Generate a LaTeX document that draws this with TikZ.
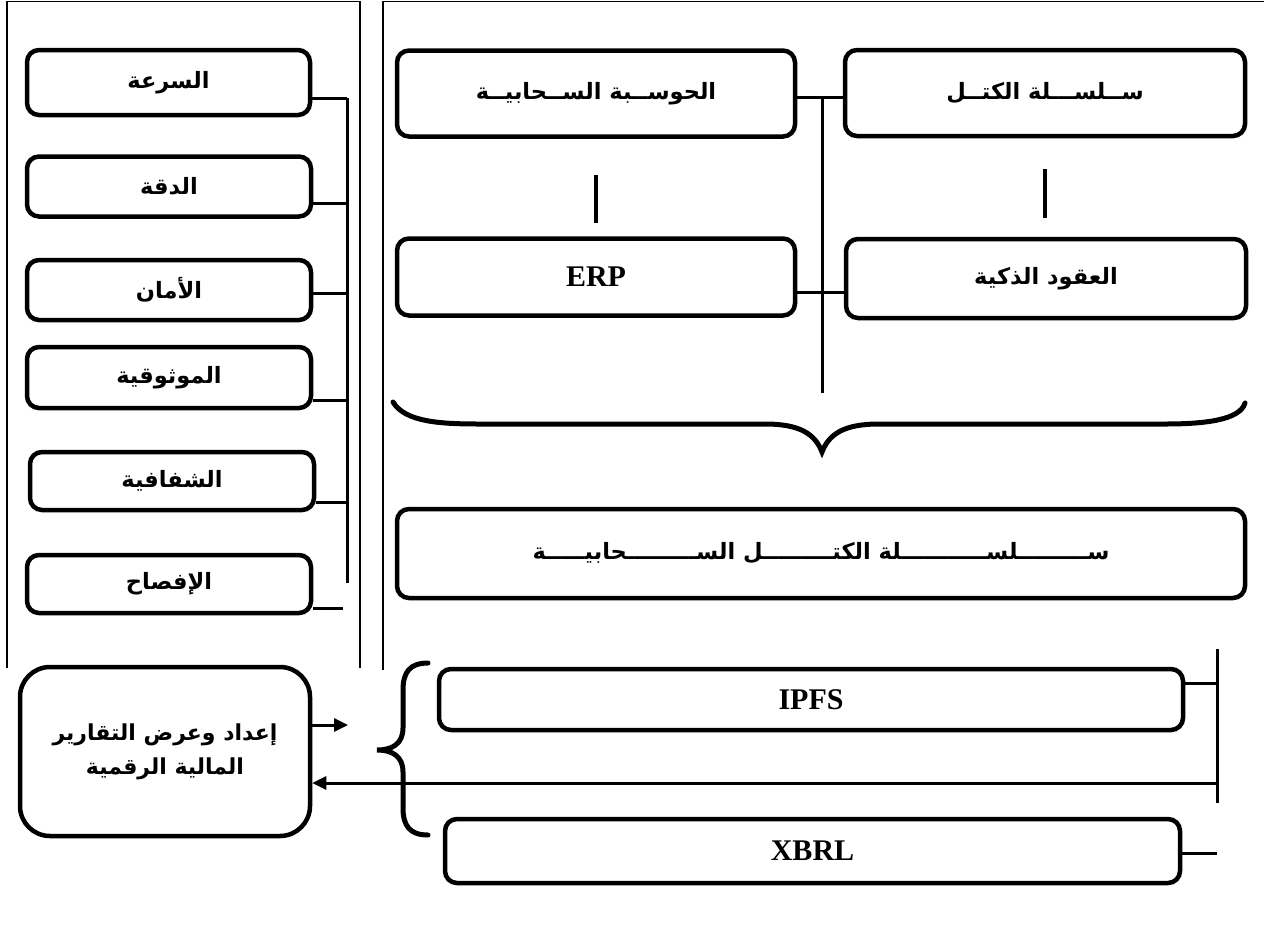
\documentclass[tikz,border=0pt]{standalone}
\usepackage{fontspec}
\usetikzlibrary{arrows.meta}
\TeXXeTstate=1
\newfontfamily\arabicfont[Script=Arabic]{DejaVu Sans}
\newfontfamily\timesfont{Liberation Serif}
\newcommand{\ar}[1]{\beginR #1\endR}
\tikzset{
  box/.style={draw, line width=4.5pt, rounded corners=12pt, inner sep=0pt,
    font=\arabicfont\bfseries\fontsize{22.5}{26}\selectfont},
  latinbox/.style={box, font=\timesfont\bfseries\fontsize{30}{34}\selectfont},
  conn/.style={line width=3pt},
  panel/.style={line width=1.5pt},
  tickline/.style={line width=4pt},
  bracel/.style={line width=5pt, line cap=round},
  arr/.style={line width=3pt, -{Triangle[length=14pt,width=13pt]}},
}
\begin{document}
\begin{tikzpicture}[x=1pt,y=-1pt]
\useasboundingbox[fill=white] (0,0) rectangle (1264,946);

% panels
\draw[panel] (7,668) -- (7,1.5) -- (360,1.5) -- (360,668);
\draw[panel] (383,670) -- (383,1.5) -- (1264,1.5);

% left column boxes
\node[box, minimum width=283pt, minimum height=65pt] (s1) at (168.5,82.5) {\ar{السرعة}};
\node[box, minimum width=284pt, minimum height=60pt] (s2) at (169,186.5) {\ar{الدقة}};
\node[box, minimum width=284pt, minimum height=60pt] (s3) at (169,290) {\ar{الأمان}};
\node[box, minimum width=284pt, minimum height=61pt] (s4) at (169,377.5) {\ar{الموثوقية}};
\node[box, minimum width=284pt, minimum height=58pt] (s5) at (172,481) {\ar{الشفافية}};
\node[box, minimum width=284pt, minimum height=58pt] (s6) at (169,584) {\ar{الإفصاح}};

\coordinate (busT) at (347,98);
\coordinate (busB) at (347,583);
\draw[conn] (busT) -- (busB);
\draw[conn] (s1.east |- 0,98) -- (busT);
\draw[conn] (s2.east |- 0,203) -- (busT |- 0,203);
\draw[conn] (s3.east |- 0,293) -- (busT |- 0,293);
\draw[conn] (s4.east |- 0,400) -- (busT |- 0,400);
\draw[conn] (s5.east |- 0,502) -- (busT |- 0,502);
\coordinate (s6end) at (343,608);
\draw[conn] (s6.east |- s6end) -- (s6end);

% right top boxes
\node[box, minimum width=398pt, minimum height=86pt] (hc) at (596,93.5) {\ar{الحوســبة الســحابيــة}};
\node[box, minimum width=400pt, minimum height=86pt] (bc) at (1045,93) {\ar{ســلســـلة الكتــل}};
\node[latinbox, minimum width=398pt, minimum height=77pt] (erp) at (596,277) {ERP};
\node[box, minimum width=400pt, minimum height=79pt] (sc) at (1046,278.5) {\ar{العقود الذكية}};

\draw[conn] (hc.east |- 0,97) -- (bc.west |- 0,97);
\draw[conn] (erp.east |- 0,292) -- (sc.west |- 0,292);
\coordinate (midT) at (822,97);
\coordinate (midB) at (822,393);
\draw[conn] (midT) -- (midB);

\draw[tickline] (hc.south) ++(0,36) -- ++(0,48);
\draw[tickline] (bc.south) ++(0,31) -- ++(0,49);

% big brace
\draw[bracel] (393,402) .. controls (405,422) and (440,424) .. (480,424)
  -- (765,424) .. controls (800,424) and (815,434) .. (822,452)
  .. controls (829,434) and (844,424) .. (879,424)
  -- (1165,424) .. controls (1205,424) and (1240,420) .. (1245,403);

% cloud blockchain
\node[box, minimum width=848pt, minimum height=89pt] (cloud) at (821,553.5)
  {\ar{ســـــــــلســـــــــــلة الكتـــــــــل الســـــــــحابيـــــة}};

% bottom
\node[box, rounded corners=30pt, minimum width=290pt, minimum height=169pt, align=center,
  font=\arabicfont\bfseries\fontsize{22}{34}\selectfont] (rep) at (165,751.5)
  {\ar{إعداد وعرض التقارير}\\ \ar{المالية الرقمية}};

\node[latinbox, minimum width=744pt, minimum height=61pt] (ipfs) at (811,699.5) {IPFS};
\node[latinbox, minimum width=735pt, minimum height=64pt] (xbrl) at (812.5,851) {XBRL};

\coordinate (rvT) at (1217,649);
\coordinate (rvB) at (1217,803);
\draw[conn] (rvT) -- (rvB);
\draw[conn] (ipfs.east |- 0,683) -- (rvT |- 0,683);
\draw[conn] (xbrl.east |- 0,853) -- (rvT |- 0,853);
\draw[arr] (rvT |- 0,783) -- (rep.east |- 0,783);
\coordinate (outEnd) at (348,725);
\draw[arr] (rep.east |- outEnd) -- (outEnd);

% left curly brace
\draw[bracel] (428,663) .. controls (410,663) and (403,672) .. (403,690)
  -- (403,728) .. controls (403,744) and (392,750) .. (377,750)
  .. controls (392,750) and (403,756) .. (403,772)
  -- (403,808) .. controls (403,826) and (410,835) .. (428,835);
\end{tikzpicture}
\end{document}
